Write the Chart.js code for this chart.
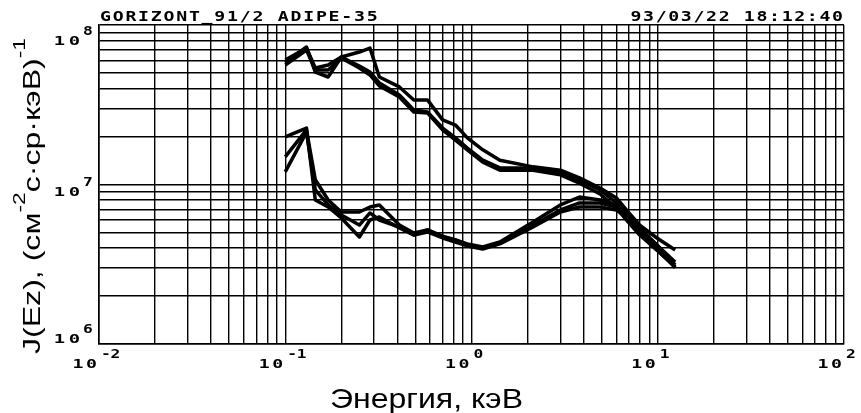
<!DOCTYPE html>
<html>
<head>
<meta charset="utf-8">
<script src="https://cdn.jsdelivr.net/npm/chart.js@4"></script>
<style>
  html, body { margin: 0; padding: 0; background: #fff; }
  #wrap { width: 861px; height: 413px; }
</style>
</head>
<body>
<div id="wrap"><canvas id="spectrum"></canvas></div>
<script>
// energy channels, keV
const energy = [0.1, 0.13, 0.145, 0.17, 0.2, 0.25, 0.285, 0.32, 0.41, 0.49, 0.58, 0.7, 0.82,
                0.95, 1.15, 1.42, 2.14, 3.0, 3.8, 4.9, 6.0, 6.8, 8.0, 9.9, 12.4];

// upper group of spectra
const fluxUp1 = [5.78e7, 7.28e7, 5.07e7, 4.72e7, 6.30e7, 6.77e7, 7.17e7, 4.72e7, 4.09e7, 3.39e7, 3.39e7, 2.54e7, 2.36e7,
                 1.96e7, 1.65e7, 1.42e7, 1.29e7, 1.23e7, 1.10e7, 9.51e6, 8.23e6, 6.92e6, 5.57e6, 4.62e6, 3.88e6];
const fluxUp2 = [6.03e7, 7.17e7, 5.38e7, 5.61e7, 6.30e7, 5.53e7, 5.07e7, 4.33e7, 3.64e7, 2.93e7, 2.85e7, 2.26e7, 1.96e7,
                 1.69e7, 1.42e7, 1.27e7, 1.27e7, 1.18e7, 1.07e7, 9.24e6, 7.66e6, 6.44e6, 5.19e6, 4.18e6, 3.27e6];
const fluxUp3 = [5.61e7, 6.97e7, 5.22e7, 5.22e7, 6.21e7, 5.38e7, 4.86e7, 4.15e7, 3.54e7, 2.85e7, 2.81e7, 2.20e7, 1.90e7,
                 1.65e7, 1.38e7, 1.23e7, 1.23e7, 1.15e7, 1.02e7, 8.72e6, 7.12e6, 5.99e6, 4.82e6, 3.88e6, 3.04e6];

// lower group of spectra
const fluxLow1 = [1.99e7, 2.26e7, 7.99e6, 7.23e6, 6.17e6, 4.69e6, 5.99e6, 6.26e6, 5.34e6, 4.82e6, 5.19e6, 4.69e6, 4.49e6,
                  4.18e6, 4.00e6, 4.30e6, 5.57e6, 6.92e6, 7.66e6, 7.66e6, 7.23e6, 6.44e6, 5.19e6, 4.06e6, 3.00e6];
const fluxLow2 = [1.49e7, 2.20e7, 1.07e7, 7.99e6, 6.72e6, 6.72e6, 7.23e6, 7.44e6, 5.57e6, 4.97e6, 5.19e6, 4.75e6, 4.49e6,
                  4.24e6, 4.06e6, 4.36e6, 5.82e6, 7.44e6, 8.35e6, 7.99e6, 7.44e6, 6.63e6, 5.34e6, 4.18e6, 3.13e6];
const fluxLow3 = [1.20e7, 2.13e7, 9.24e6, 7.44e6, 6.44e6, 5.57e6, 6.63e6, 5.99e6, 5.41e6, 4.82e6, 5.04e6, 4.62e6, 4.36e6,
                  4.12e6, 3.94e6, 4.24e6, 5.41e6, 6.72e6, 7.23e6, 7.23e6, 6.92e6, 6.26e6, 4.97e6, 3.88e6, 3.04e6];

const xDecades = [-2, -1, 0, 1, 2];
const yDecades = [6, 7, 8];

const headerLeft = 'GORIZONT_91/2 ADIPE-35';
const headerRight = '93/03/22 18:12:40';
const xTitle = 'Энергия, кэВ';
const yTitleParts = [['J(Ez), (см', false], ['-2', true], ['с·ср·кэВ)', false], ['-1', true]];

// 1..9 x 10^n for every decade, plus the last decade itself
function gridValues(decades) {
  const vals = [];
  decades.forEach((d, i) => {
    const base = Math.pow(10, d);
    if (i === decades.length - 1) { vals.push(base); return; }
    for (let m = 1; m <= 9; m++) vals.push(m * base);
  });
  return vals;
}

const allFlux = [fluxUp1, fluxUp2, fluxUp3, fluxLow1, fluxLow2, fluxLow3];

const datasets = allFlux.map(f => ({
  data: energy.map((e, i) => ({x: e, y: f[i]})),
  showLine: true,
  borderColor: '#000',
  borderWidth: 3.5,
  pointRadius: 0,
  tension: 0,
  borderJoinStyle: 'round'
}));

const MONO = '"DejaVu Sans Mono", "Liberation Mono", monospace';

// monospace text with wide glyphs and fixed pitch, like the old plotter font
function pitchText(ctx, text, x, y, size, pitch, stretch) {
  ctx.font = 'bold ' + size + 'px ' + MONO;
  for (let i = 0; i < text.length; i++) {
    ctx.save();
    ctx.translate(x + i * pitch, y);
    ctx.scale(stretch, 1);
    ctx.fillText(text[i], 0, 0);
    ctx.restore();
  }
}
function pitchWidth(ctx, text, size, pitch, stretch) {
  ctx.font = 'bold ' + size + 'px ' + MONO;
  return (text.length - 1) * pitch + ctx.measureText('0').width * stretch;
}

const labelsPlugin = {
  id: 'labels',
  afterDraw(chart) {
    const ctx = chart.ctx;
    const area = chart.chartArea;
    const xs = chart.scales.x, ys = chart.scales.y;
    ctx.save();
    ctx.fillStyle = '#000';
    ctx.textAlign = 'left';
    ctx.textBaseline = 'alphabetic';

    // header
    pitchText(ctx, headerLeft, area.left + 1, 21, 14, 12.7, 1.3);
    const wr = pitchWidth(ctx, headerRight, 14, 12.6, 1.3);
    pitchText(ctx, headerRight, area.right - wr - 1, 21, 14, 12.6, 1.3);

    // y tick labels
    yDecades.forEach(d => {
      const py = ys.getPixelForValue(Math.pow(10, d));
      const base = Math.min(Math.max(py + 11, area.top + 20), area.bottom - 1);
      const w = pitchWidth(ctx, '10', 13, 15, 1.45);
      pitchText(ctx, '10', area.left - 19 - w, base, 13, 15, 1.45);
      pitchText(ctx, String(d), area.left - 16, base - 10, 12.5, 10, 1.3);
    });

    // x tick labels
    xDecades.forEach(d => {
      const px = xs.getPixelForValue(Math.pow(10, d));
      const w = pitchWidth(ctx, '10', 13, 13.5, 1.4);
      pitchText(ctx, '10', px - 2 - w, 368, 13, 13.5, 1.4);
      pitchText(ctx, String(d), px + 2, 358, 12.5, 9.5, 1.3);
    });

    // x title
    ctx.font = '28px "Liberation Sans", Arial, sans-serif';
    const tw = ctx.measureText(xTitle).width;
    ctx.save();
    ctx.translate(330, 408);
    ctx.scale(193 / tw, 1);
    ctx.fillText(xTitle, 0, 0);
    ctx.restore();

    // y title, rotated, with superscripts
    const mainFont = '24px "Liberation Sans", Arial, sans-serif';
    const supFont = '17px "Liberation Sans", Arial, sans-serif';
    let total = 0;
    yTitleParts.forEach(([t, sup]) => {
      ctx.font = sup ? supFont : mainFont;
      total += ctx.measureText(t).width;
    });
    ctx.save();
    ctx.translate(40, 354);
    ctx.rotate(-Math.PI / 2);
    ctx.scale(316 / total, 1);
    let off = 0;
    yTitleParts.forEach(([t, sup]) => {
      ctx.font = sup ? supFont : mainFont;
      ctx.fillText(t, off, sup ? -15 : 0);
      off += ctx.measureText(t).width;
    });
    ctx.restore();

    ctx.restore();
  }
};

const xGrid = gridValues(xDecades);
const yGrid = gridValues(yDecades);

new Chart(document.getElementById('spectrum').getContext('2d'), {
  type: 'scatter',
  data: {datasets},
  options: {
    responsive: true,
    maintainAspectRatio: false,
    animation: false,
    events: [],
    layout: {padding: {left: 99, right: 17, top: 25, bottom: 69}},
    plugins: {legend: {display: false}, tooltip: {enabled: false}},
    scales: {
      x: {
        type: 'logarithmic',
        min: Math.pow(10, xDecades[0]),
        max: Math.pow(10, xDecades[xDecades.length - 1]),
        afterBuildTicks: s => { s.ticks = xGrid.map(v => ({value: v})); },
        afterFit: s => { s.height = 0; },
        ticks: {display: false},
        grid: {color: '#000', lineWidth: 1.4, drawTicks: false},
        border: {color: '#000', width: 1.6}
      },
      y: {
        type: 'logarithmic',
        min: Math.pow(10, yDecades[0]),
        max: Math.pow(10, yDecades[yDecades.length - 1]),
        afterBuildTicks: s => { s.ticks = yGrid.map(v => ({value: v})); },
        afterFit: s => { s.width = 0; },
        ticks: {display: false},
        grid: {color: '#000', lineWidth: 1.4, drawTicks: false},
        border: {color: '#000', width: 1.6}
      }
    }
  },
  plugins: [labelsPlugin]
});
</script>
</body>
</html>
